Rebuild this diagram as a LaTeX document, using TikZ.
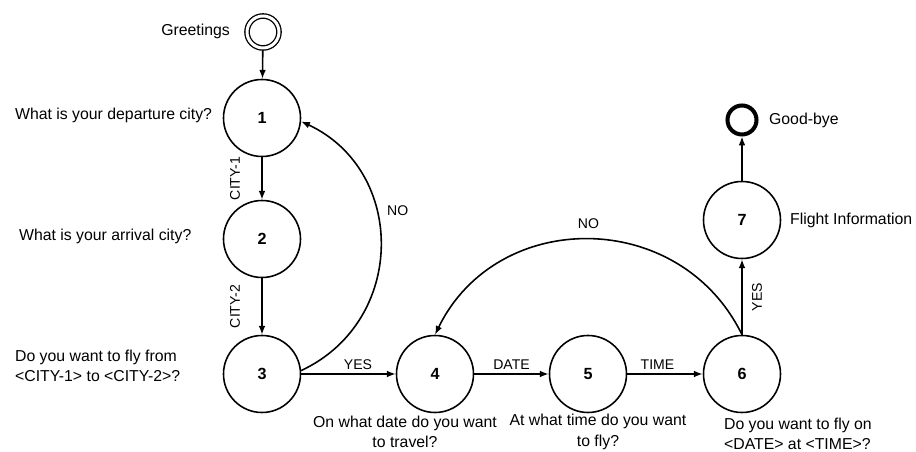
\documentclass[tikz,border=0pt]{standalone}
\usepackage{fontspec}
\setmainfont{Liberation Sans}
\usetikzlibrary{arrows.meta}

\begin{document}
\begin{tikzpicture}[
  state/.style={circle, draw, line width=0.9pt, minimum size=1.54cm, inner sep=0pt, font=\fontsize{9.2}{11}\selectfont\bfseries},
  prompt/.style={font=\fontsize{9}{11.5}\selectfont, inner sep=1pt},
  cond/.style={font=\fontsize{8}{9}\selectfont, inner sep=2pt},
  arc/.style={-{Latex[length=5pt,width=3.8pt]}, line width=0.9pt}
]
  \useasboundingbox (0,0) rectangle (18.32,9.04);
  % states
  \node[circle, draw, double, double distance=1.7pt, line width=0.75pt, minimum size=0.64cm, outer sep=1.6pt] (start) at (5.26,8.40) {};
  \node[state] (s1) at (5.24,6.68) {1};
  \node[state] (s2) at (5.24,4.26) {2};
  \node[state] (s3) at (5.24,1.56) {3};
  \node[state] (s4) at (8.70,1.56) {4};
  \node[state] (s5) at (11.76,1.56) {5};
  \node[state] (s6) at (14.84,1.56) {6};
  \node[state] (s7) at (14.84,4.64) {7};
  \node[circle, draw, line width=2.3pt, minimum size=0.58cm] (stop) at (14.84,6.64) {};

  % prompts
  \node[prompt, anchor=east] (pstart) at (4.64,8.42) {Greetings};
  \node[prompt, anchor=west] (p1) at (0.26,6.74) {What is your departure city?};
  \node[prompt, anchor=west] (p2) at (0.34,4.32) {What is your arrival city?};
  \node[prompt, anchor=west, align=left] (p3) at (0.26,1.73) {Do you want to fly from\\<CITY-1> to <CITY-2>?};
  \node[prompt, align=center] (p4) at (8.10,0.40) {On what date do you want\\to travel?};
  \node[prompt, align=center] (p5) at (11.96,0.40) {At what time do you want\\to fly?};
  \node[prompt, anchor=west, align=left] (p6) at (14.44,0.36) {Do you want to fly on\\<DATE> at <TIME>?};
  \node[prompt, anchor=west] (p7) at (15.76,4.64) {Flight Information};
  \node[prompt, anchor=west] (pstop) at (15.34,6.64) {Good-bye};

  % transitions
  \draw[arc] (start) -- (s1);
  \draw[arc] (s1) -- node[midway, xshift=-0.54cm, rotate=90, cond]{CITY-1} (s2);
  \draw[arc] (s2) -- node[midway, xshift=-0.54cm, rotate=90, cond]{CITY-2} (s3);
  \draw[arc] (s3) -- node[pos=0.6, above, cond]{YES} (s4);
  \draw[arc] (s3.5) to[out=25, in=-25, looseness=1.2] node[pos=0.62, right=4pt, cond]{NO} (s1.-5);
  \draw[arc] (s4) -- node[midway, above, cond]{DATE} (s5);
  \draw[arc] (s5) -- node[pos=0.4, above, cond]{TIME} (s6);
  \draw[arc] (s6.north) to[out=116, in=64, looseness=1.18] node[midway, above=4pt, cond]{NO} (s4.north);
  \draw[arc] (s6) -- node[midway, xshift=0.3cm, rotate=90, cond]{YES} (s7);
  \draw[arc] (s7) -- (stop);
\end{tikzpicture}
\end{document}
